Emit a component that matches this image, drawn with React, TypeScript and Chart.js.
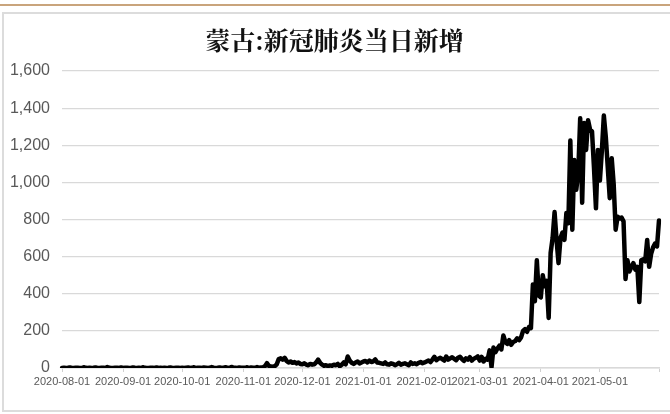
import React, { useEffect, useRef } from 'react';
import { Chart, registerables } from 'chart.js';

Chart.register(...registerables);

const TITLE = '蒙古:新冠肺炎当日新增';
const START_DATE = '2020-08-01';

// daily new cases, month by month
const aug2020 = [0, 2, 0, 1, 3, 0, 0, 2, 1, 0, 0, 4, 1, 0, 2, 0, 1, 3, 0, 0, 1, 2, 0, 5, 1, 0, 0, 2, 1, 0, 3];
const sep2020 = [0, 1, 2, 0, 0, 3, 1, 0, 2, 0, 4, 1, 0, 0, 2, 1, 0, 3, 0, 1, 0, 2, 0, 1, 3, 0, 0, 2, 1, 0];
const oct2020 = [1, 0, 2, 3, 0, 1, 4, 0, 2, 1, 0, 3, 2, 0, 1, 5, 2, 0, 1, 3, 0, 2, 4, 1, 0, 6, 2, 1, 0, 3, 2];
const nov2020 = [2, 1, 4, 0, 3, 2, 1, 5, 2, 3, 3, 10, 26, 12, 8, 6, 10, 20, 48, 52, 45, 55, 38, 30, 35, 28, 32, 25, 30, 22];
const dec2020 = [20, 25, 18, 15, 22, 18, 20, 30, 45, 28, 18, 12, 15, 10, 14, 12, 18, 15, 22, 10, 18, 30, 20, 62, 40, 28, 22, 30, 35, 25, 30];
const jan2021 = [35, 38, 30, 40, 32, 36, 46, 30, 28, 25, 22, 30, 20, 18, 25, 22, 15, 20, 28, 18, 22, 25, 20, 15, 30, 22, 25, 20, 28, 32, 26];
const feb2021 = [30, 35, 40, 32, 45, 60, 42, 50, 55, 48, 40, 62, 45, 52, 58, 50, 42, 55, 60, 48, 38, 52, 45, 58, 40, 50, 55, 62];
const mar2021 = [40, 60, 35, 50, 45, 95, 5, 110, 85, 105, 120, 100, 175, 140, 130, 150, 125, 140, 145, 160, 150, 165, 200, 210, 195, 220, 215, 450, 360, 580, 390];
const apr2021 = [380, 500, 440, 470, 270, 620, 700, 840, 690, 565, 700, 730, 690, 835, 780, 1225, 745, 1120, 960, 1050, 1345, 890, 1320, 1175, 1335, 1285, 1275, 1080, 860, 1175];
const may2021 = [1010, 1170, 1360, 1245, 1080, 915, 1130, 990, 745, 815, 805, 810, 790, 480, 580, 520, 545, 565, 530, 545, 355, 580, 585, 575, 690, 545, 615, 650, 670, 655, 795];

const Y_MIN = 0;
const Y_MAX = 1600;
const Y_STEP = 200;

const values = [
  ...aug2020, ...sep2020, ...oct2020, ...nov2020, ...dec2020,
  ...jan2021, ...feb2021, ...mar2021, ...apr2021, ...may2021,
];

function buildDates(start: string, n: number): string[] {
  const out: string[] = [];
  const d = new Date(start + 'T00:00:00Z');
  for (let i = 0; i < n; i++) {
    const t = new Date(d.getTime() + i * 86400000);
    out.push(t.toISOString().slice(0, 10));
  }
  return out;
}

const dates = buildDates(START_DATE, values.length);

export default function App() {
  const ref = useRef<HTMLCanvasElement | null>(null);

  useEffect(() => {
    if (!ref.current) return;
    const isMonthStart = (i: number) => (dates[i] || '').endsWith('-01') || i === dates.length - 1;
    const chart = new Chart(ref.current, {
      type: 'line',
      data: {
        labels: dates,
        datasets: [
          {
            data: values,
            borderColor: '#000000',
            backgroundColor: '#000000',
            borderWidth: 4.5,
            pointRadius: 0,
            tension: 0,
            borderJoinStyle: 'round',
            borderCapStyle: 'round',
            fill: false,
          },
        ],
      },
      options: {
        animation: false,
        responsive: false,
        devicePixelRatio: 1,
        layout: { padding: { left: 10, right: 11, top: 14, bottom: 0 } },
        plugins: {
          legend: { display: false },
          tooltip: { enabled: false },
          title: {
            display: true,
            text: TITLE,
            color: '#111111',
            font: { family: '"Noto Serif CJK SC", "Noto Sans CJK SC", serif', size: 25, weight: 'bold' },
            padding: { top: 11, bottom: 16 },
          },
        },
        scales: {
          x: {
            type: 'category',
            offset: false,
            grid: {
              display: true,
              drawOnChartArea: false,
              drawTicks: true,
              tickLength: 4,
              color: (ctx: any) => (isMonthStart(ctx.index) ? '#d0d0d0' : 'rgba(0,0,0,0)'),
            },
            border: { display: true, color: '#d9d9d9', width: 1.5 },
            ticks: {
              autoSkip: false,
              maxRotation: 0,
              minRotation: 0,
              padding: 3,
              color: '#595959',
              font: { family: '"Liberation Sans", Arial, sans-serif', size: 11 },
              callback: (_v: any, i: number) => ((dates[i] || '').endsWith('-01') ? dates[i] : ''),
            },
            afterFit: (s: any) => {
              s.height = 46;
            },
          },
          y: {
            min: Y_MIN,
            max: Y_MAX,
            grid: { color: '#d9d9d9', lineWidth: 1.2, drawTicks: false },
            border: { display: false },
            ticks: {
              stepSize: Y_STEP,
              padding: 12,
              color: '#595959',
              font: { family: '"Liberation Sans", Arial, sans-serif', size: 16 },
              callback: (v: any) => Number(v).toLocaleString('en-US'),
            },
            afterFit: (s: any) => {
              s.width = 52;
            },
          },
        },
      },
    });
    return () => chart.destroy();
  }, []);

  return (
    <div
      style={{
        position: 'fixed',
        left: 0,
        top: 0,
        width: 670,
        height: 414,
        background: '#ffffff',
        overflow: 'hidden',
      }}
    >
      <div style={{ position: 'absolute', left: 0, top: 4, width: 670, height: 2, background: '#c9a47c' }} />
      <div
        style={{
          position: 'absolute',
          left: 2,
          top: 12,
          width: 690,
          height: 396,
          border: '2px solid #dcdcdc',
        }}
      />
      <canvas
        ref={ref}
        width={670}
        height={414}
        style={{ position: 'absolute', left: 0, top: 0, width: 670, height: 414 }}
      />
    </div>
  );
}
